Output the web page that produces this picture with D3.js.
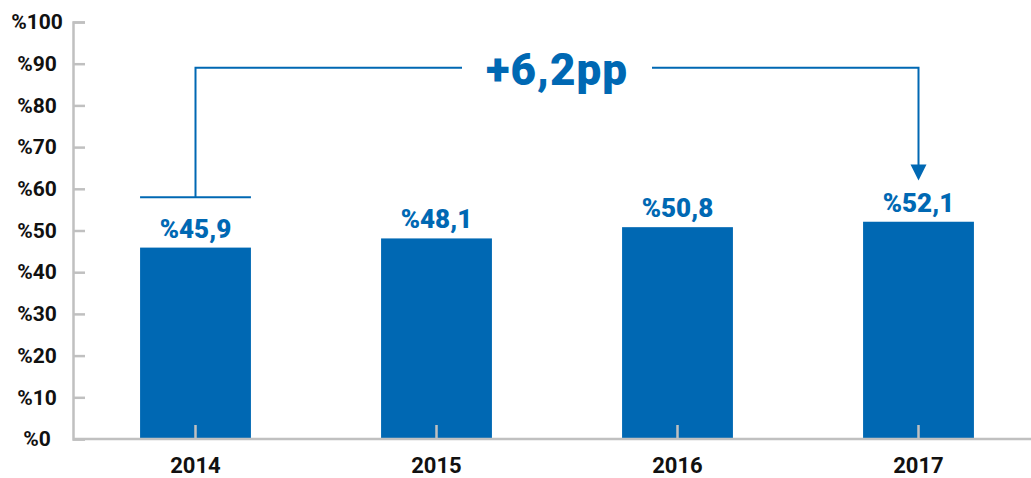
<!DOCTYPE html>
<html>
<head>
<meta charset="utf-8">
<script src="https://cdn.jsdelivr.net/npm/d3@7"></script>
<style>
  html, body { margin: 0; padding: 0; background: #fff; }
  text { font-family: Roboto, "Noto Sans", sans-serif; font-weight: 700; }
</style>
</head>
<body>
<div id="chart"></div>
<script>
const years = ['2014', '2015', '2016', '2017'];
const shares = [45.9, 48.1, 50.8, 52.1];
const shareLabels = ['%45,9', '%48,1', '%50,8', '%52,1'];
const yTicks = [0, 10, 20, 30, 40, 50, 60, 70, 80, 90, 100];
const changeLabel = '+6,2pp';
// bracket levels in % units: top line, left foot, arrow tip
const bracketTop = 89;
const bracketFoot = 58;
const arrowTip = 62;

const width = 1031;
const height = 478;
const blue = '#0068b3';
const grey = '#c0c0c0';

const svg = d3.select('#chart')
  .append('svg')
  .attr('width', width)
  .attr('height', height);

const axisX = 73;
const baseY = 439;

const x = d3.scaleBand()
  .domain(years)
  .range([75, 1039])
  .paddingInner(0.54)
  .paddingOuter(0.27);

const y = d3.scaleLinear()
  .domain([0, 100])
  .range([baseY, 22]);

// Bars
svg.selectAll('.bar')
  .data(years)
  .enter()
  .append('rect')
  .attr('x', d => x(d))
  .attr('y', (d, i) => y(shares[i]))
  .attr('width', x.bandwidth())
  .attr('height', (d, i) => baseY - y(shares[i]))
  .attr('fill', blue);

// Y axis
const yAxis = svg.append('g')
  .attr('transform', `translate(${axisX},0)`)
  .call(d3.axisLeft(y).tickValues(yTicks).tickSize(-12).tickFormat(d => '%' + d));
yAxis.select('.domain').attr('stroke', grey).attr('stroke-width', 2.5);
yAxis.selectAll('.tick line').attr('stroke', grey).attr('stroke-width', 2.5);
yAxis.selectAll('.tick text')
  .attr('x', -36)
  .attr('text-anchor', 'middle')
  .attr('fill', '#111')
  .style('font-size', '21px')
  .style('font-family', 'Roboto, sans-serif')
  .style('font-weight', 700);

// X axis
const xAxis = svg.append('g')
  .attr('transform', `translate(0,${baseY})`)
  .call(d3.axisBottom(x).tickSize(-14));
xAxis.select('.domain').remove();
xAxis.append('line')
  .attr('x1', axisX)
  .attr('x2', width)
  .attr('stroke', grey)
  .attr('stroke-width', 2.5);
xAxis.selectAll('.tick line').attr('stroke', grey).attr('stroke-width', 2.5);
xAxis.selectAll('.tick text')
  .attr('y', 34)
  .attr('dy', null)
  .attr('fill', '#111')
  .style('font-size', '22px')
  .style('font-family', 'Roboto, sans-serif')
  .style('font-weight', 700);

// Value labels
svg.selectAll('.val')
  .data(years)
  .enter()
  .append('text')
  .attr('x', d => x(d) + x.bandwidth() / 2)
  .attr('y', (d, i) => y(shares[i]) - 10)
  .attr('text-anchor', 'middle')
  .attr('fill', blue)
  .style('font-size', '26px')
  .style('font-weight', 900)
  .text((d, i) => shareLabels[i]);

// Bracket annotation
const cx = d => x(d) + x.bandwidth() / 2;
const leftX = cx(years[0]);
const rightX = cx(years[years.length - 1]);
const topY = y(bracketTop);
const midX = (leftX + rightX) / 2;
const gapHalf = 95;

const ann = svg.append('g')
  .attr('fill', 'none')
  .attr('stroke', blue)
  .attr('stroke-width', 2);

ann.append('line')
  .attr('x1', x(years[0]))
  .attr('x2', x(years[0]) + x.bandwidth())
  .attr('y1', y(bracketFoot))
  .attr('y2', y(bracketFoot));

ann.append('path')
  .attr('d', `M${leftX},${y(bracketFoot)} V${topY} H${midX - gapHalf}`);

ann.append('path')
  .attr('d', `M${midX + gapHalf},${topY} H${rightX} V${y(arrowTip) - 14}`);

svg.append('path')
  .attr('d', `M${rightX - 8},${y(arrowTip) - 16} L${rightX + 8},${y(arrowTip) - 16} L${rightX},${y(arrowTip)} Z`)
  .attr('fill', blue);

svg.append('text')
  .attr('x', midX)
  .attr('y', topY + 17)
  .attr('text-anchor', 'middle')
  .attr('fill', blue)
  .style('font-size', '44px')
  .style('font-weight', 900)
  .style('letter-spacing', '1px')
  .text(changeLabel);
</script>
</body>
</html>
